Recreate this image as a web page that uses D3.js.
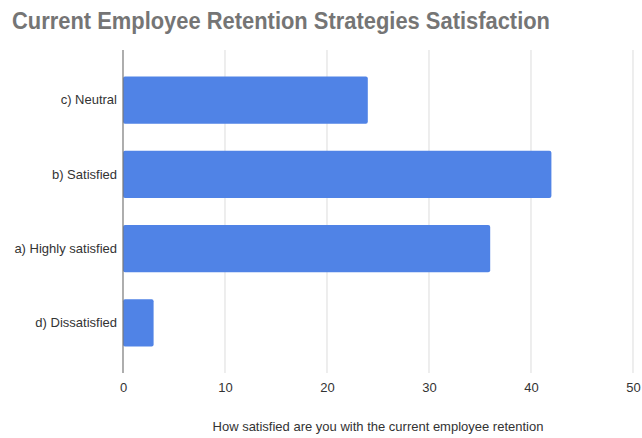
<!DOCTYPE html>
<html>
<head>
<meta charset="utf-8">
<script src="https://cdn.jsdelivr.net/npm/d3@7"></script>
<style>
  body { margin: 0; background: #fff; }
  text { font-family: "Liberation Sans", Arial, sans-serif; }
</style>
</head>
<body>
<div id="chart"></div>
<script>
// data
const categories = ["c) Neutral", "b) Satisfied", "a) Highly satisfied", "d) Dissatisfied"];
const values = [24, 42, 36, 3];
const xTicks = [0, 10, 20, 30, 40, 50];

const chartData = categories.map((c, i) => ({ label: c, value: values[i] }));

const W = 642, H = 438;
const margin = { top: 50, right: 9, bottom: 65, left: 123 };
const width = W - margin.left - margin.right;
const height = H - margin.top - margin.bottom;

const svg = d3.select("#chart")
    .append("svg")
    .attr("width", W)
    .attr("height", H);

// title
svg.append("text")
    .attr("x", 12)
    .attr("y", 29)
    .attr("textLength", 538)
    .attr("lengthAdjust", "spacingAndGlyphs")
    .style("font-size", "23.5px")
    .style("font-weight", "bold")
    .style("fill", "#757575")
    .text("Current Employee Retention Strategies Satisfaction");

const g = svg.append("g")
    .attr("transform", `translate(${margin.left},${margin.top})`);

const x = d3.scaleLinear()
    .domain([0, 50])
    .range([0, width]);

const y = d3.scaleBand()
    .domain(categories)
    .range([0, height])
    .paddingInner(0.365)
    .paddingOuter(0.356);

// gridlines
g.selectAll(".grid")
    .data(xTicks.filter(t => t > 0))
    .enter()
    .append("line")
    .attr("class", "grid")
    .attr("x1", d => x(d))
    .attr("x2", d => x(d))
    .attr("y1", 0)
    .attr("y2", height)
    .attr("stroke", "#e2e2e2")
    .attr("stroke-width", 1.2);

// bars
g.selectAll(".bar")
    .data(chartData)
    .enter()
    .append("rect")
    .attr("class", "bar")
    .attr("x", x(0))
    .attr("y", d => y(d.label))
    .attr("width", d => x(d.value) - x(0))
    .attr("height", y.bandwidth())
    .attr("rx", 2)
    .attr("fill", "#5083e6");

// zero line
g.append("line")
    .attr("x1", x(0)).attr("x2", x(0))
    .attr("y1", 0).attr("y2", height)
    .attr("stroke", "#777")
    .attr("stroke-width", 1.2);

// x axis labels
const xAxis = g.append("g")
    .attr("transform", `translate(0,${height})`)
    .call(d3.axisBottom(x).tickValues(xTicks).tickSize(0).tickPadding(10));
xAxis.select(".domain").remove();
xAxis.selectAll("text")
    .style("font-size", "13px")
    .style("fill", "#333");

// y axis labels
const yAxis = g.append("g")
    .call(d3.axisLeft(y).tickSize(0).tickPadding(6));
yAxis.select(".domain").remove();
yAxis.selectAll("text")
    .style("font-size", "13px")
    .style("fill", "#333");

// x axis title
g.append("text")
    .attr("x", width / 2)
    .attr("y", height + 58)
    .attr("text-anchor", "middle")
    .style("font-size", "13px")
    .style("fill", "#333")
    .text("How satisfied are you with the current employee retention");
</script>
</body>
</html>
